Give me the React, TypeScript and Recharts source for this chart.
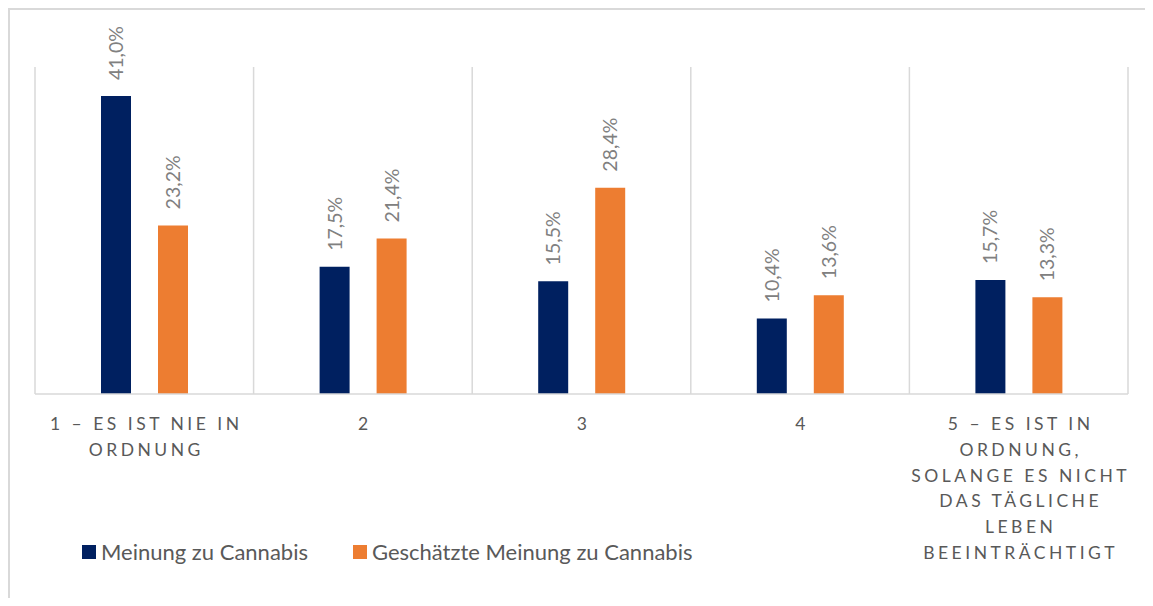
import { BarChart, Bar, XAxis, YAxis, CartesianGrid, LabelList } from 'recharts';

// Kategorien (Zeilenumbrüche wie im Original)
const categories = ['1', '2', '3', '4', '5'];
const categoryLines = [
  ['1 – ES IST NIE IN', 'ORDNUNG'],
  ['2'],
  ['3'],
  ['4'],
  ['5 – ES IST IN', 'ORDNUNG,', 'SOLANGE ES NICHT', 'DAS TÄGLICHE', 'LEBEN', 'BEEINTRÄCHTIGT'],
];
const meinung = [41.0, 17.5, 15.5, 10.4, 15.7];
const geschaetzt = [23.2, 21.4, 28.4, 13.6, 13.3];
const seriesNames = ['Meinung zu Cannabis', 'Geschätzte Meinung zu Cannabis'];

const NAVY = '#002060';
const ORANGE = '#ED7D31';
const GRID = '#d9d9d9';
const FONT = 'Lato, "Open Sans", sans-serif';

const data = categories.map((c, i) => ({ name: c, a: meinung[i], b: geschaetzt[i] }));

const fmt = (v: number) => v.toFixed(1).replace('.', ',') + '%';

function ValueLabel(props: any) {
  const { x, y, width, value } = props;
  const cx = x + width / 2 + 7;
  const top = y - 16;
  return (
    <text
      x={cx}
      y={top}
      transform={`rotate(-90, ${cx}, ${top})`}
      textAnchor="start"
      fill="#808080"
      fontSize={19.5}
      fontFamily={FONT}
    >
      {fmt(value)}
    </text>
  );
}

function CategoryTick(props: any) {
  const { x, y, index } = props;
  const lines = categoryLines[index] ?? [];
  return (
    <g>
      {lines.map((line, i) => (
        <text
          key={i}
          x={x + 2}
          y={y + 28 + i * 25.8}
          textAnchor="middle"
          fill="#595959"
          fontSize={17.5}
          fontFamily={FONT}
          letterSpacing={3.5}
        >
          {line}
        </text>
      ))}
    </g>
  );
}

function LegendBox() {
  const colors = [NAVY, ORANGE];
  return (
    <div
      style={{
        position: 'absolute',
        left: 72,
        top: 529,
        display: 'flex',
        alignItems: 'center',
        fontFamily: FONT,
        fontSize: 22,
        lineHeight: '26px',
        color: '#595959',
        whiteSpace: 'nowrap',
      }}
    >
      {seriesNames.map((n, i) => (
        <div key={n} style={{ display: 'flex', alignItems: 'center', marginRight: 45 }}>
          <span style={{ width: 14, height: 14, background: colors[i], display: 'inline-block', marginRight: 5 }} />
          <span>{n}</span>
        </div>
      ))}
    </div>
  );
}

export default function App() {
  return (
    <div
      style={{
        position: 'relative',
        width: 1145,
        height: 590,
        borderTop: `2px solid ${GRID}`,
        borderLeft: `2px solid ${GRID}`,
        boxSizing: 'border-box',
      }}
    >
      <BarChart
        width={1140}
        height={580}
        data={data}
        margin={{ top: 57, right: 22, left: 25, bottom: 0 }}
        barSize={30}
        barGap={27}
        style={{ position: 'absolute', left: 0, top: 0 }}
      >
        <CartesianGrid
          horizontal={false}
          stroke={GRID}
          strokeWidth={1.5}
          verticalCoordinatesGenerator={({ offset }: any) =>
            categories.map((_, i) => offset.left + (i * offset.width) / categories.length).concat(offset.left + offset.width)
          }
        />
        <XAxis
          dataKey="name"
          height={196}
          tickLine={false}
          axisLine={{ stroke: GRID, strokeWidth: 1.5 }}
          tick={<CategoryTick />}
          interval={0}
        />
        <YAxis hide domain={[0, 45]} />
        <Bar dataKey="a" name={seriesNames[0]} fill={NAVY} isAnimationActive={false}>
          <LabelList dataKey="a" content={<ValueLabel />} />
        </Bar>
        <Bar dataKey="b" name={seriesNames[1]} fill={ORANGE} isAnimationActive={false}>
          <LabelList dataKey="b" content={<ValueLabel />} />
        </Bar>
      </BarChart>
      <LegendBox />
    </div>
  );
}
